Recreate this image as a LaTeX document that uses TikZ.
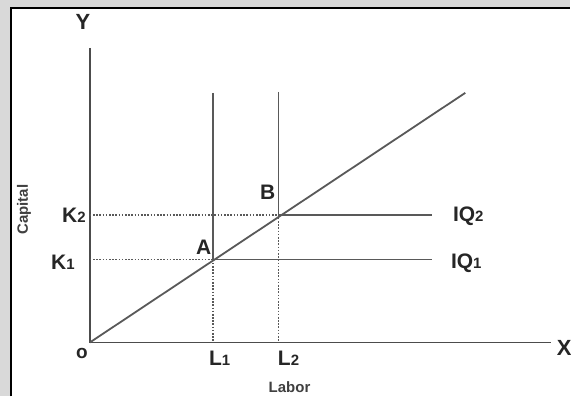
\documentclass[tikz,border=0pt]{standalone}
\usepackage{fontspec}
\setmainfont{Liberation Sans}
\usetikzlibrary{positioning}
\newcommand{\lowsub}[1]{{\fontsize{15}{15}\selectfont #1}}

\begin{document}
\begin{tikzpicture}[
    x=1pt, y=-1pt,
    font=\fontsize{21}{22}\selectfont\bfseries,
    axis/.style={draw=black!70, line width=1.8pt},
    curve/.style={draw=black!65, line width=1.8pt},
    guide/.style={draw=black!65, line width=1.8pt, dash pattern=on 1.6pt off 1.6pt},
    lbl/.style={inner sep=0pt, text=black!85},
    small/.style={inner sep=0pt, font=\fontsize{15}{16}\selectfont\bfseries, text=black!75}
]

% Frame
\fill[black!15] (0,0) rectangle (571,397);
\fill[white] (11,8) rectangle (571,397);
\draw[black, line width=1.8pt] (11,397) -- (11,8) -- (571,8);
\useasboundingbox (0,0) rectangle (571,397);

% Points
\coordinate (O) at (90,343);
\coordinate (ytop) at (90,48);
\coordinate (xend) at (552,343);
\coordinate (A) at (213,260);
\coordinate (B) at (279,215);
\coordinate (rayend) at (466,93);
\coordinate (l1top) at (213,93);
\coordinate (l2top) at (279,92);
\coordinate (l1bot) at (213,343);
\coordinate (l2bot) at (279,343);
\coordinate (k1) at (90,260);
\coordinate (k2) at (90,215);
\coordinate (iq1end) at (433,260);
\coordinate (iq2end) at (433,215);

% Axes
\draw[axis] (ytop) -- (O) -- (xend);

% Ray
\draw[curve] (O) -- (rayend);

% Isoquants
\draw[curve] (l1top) -- (A) -- (iq1end);
\draw[curve] (l2top) -- (B) -- (iq2end);

% Guides
\draw[guide] (k1) -- (A);
\draw[guide] (k2) -- (B);
\draw[guide] (A) -- (l1bot);
\draw[guide] (B) -- (l2bot);

% Labels
\node[lbl, font=\fontsize{22}{22}\selectfont\bfseries] (ylab) at (83,22) {Y};
\node[lbl, font=\fontsize{22}{22}\selectfont\bfseries] (xlab) at (565,348) {X};
\node[lbl, font=\fontsize{19}{19}\selectfont\bfseries] (olab) at (82,354) {o};
\node[lbl] (k2lab) at (74,216) {K\lowsub{2}};
\node[lbl] (k1lab) at (63,263) {K\lowsub{1}};
\node[lbl] (alab) at (204,248) {A};
\node[lbl] (blab) at (268,193) {B};
\node[lbl] (l1lab) at (220,359) {L\lowsub{1}};
\node[lbl] (l2lab) at (289,359) {L\lowsub{2}};
\node[lbl] (iq2lab) at (469,217) {IQ\lowsub{2}};
\node[lbl] (iq1lab) at (467,264) {IQ\lowsub{1}};
\node[small] (labor) at (290,388) {Labor};
\node[small, rotate=90] (capital) at (24,210) {Capital};

\end{tikzpicture}
\end{document}
